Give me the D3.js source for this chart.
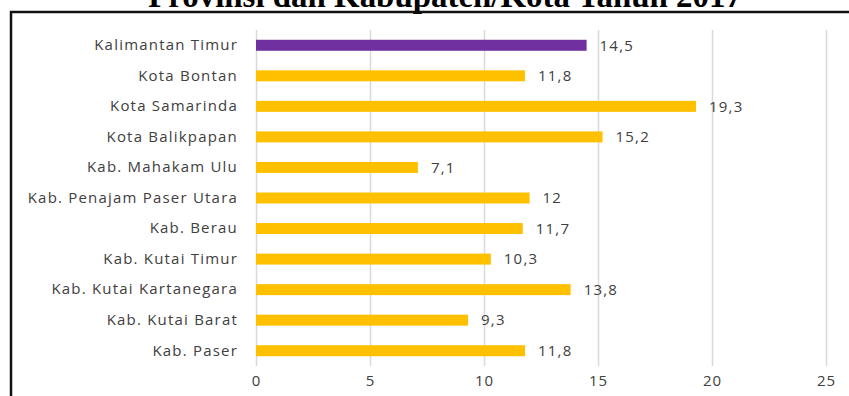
<!DOCTYPE html>
<html>
<head>
<meta charset="utf-8">
<script src="https://cdn.jsdelivr.net/npm/d3@7"></script>
<style>
  html, body { margin: 0; padding: 0; background: #fff; }
  svg { display: block; }
</style>
</head>
<body>
<svg id="chart" width="849" height="396"></svg>
<script>
// Regions, top to bottom as drawn
const regions = [
  "Kalimantan Timur",
  "Kota Bontan",
  "Kota Samarinda",
  "Kota Balikpapan",
  "Kab. Mahakam Ulu",
  "Kab. Penajam Paser Utara",
  "Kab. Berau",
  "Kab. Kutai Timur",
  "Kab. Kutai Kartanegara",
  "Kab. Kutai Barat",
  "Kab. Paser"
];
const values = [14.5, 11.8, 19.3, 15.2, 7.1, 12, 11.7, 10.3, 13.8, 9.3, 11.8];
const xTicks = [0, 5, 10, 15, 20, 25];
const title = "Provinsi dan Kabupaten/Kota Tahun 2017";

const svg = d3.select("#chart");
const W = 849, H = 396;
const fmt = v => String(v).replace(".", ",");
const FONT = "Open Sans, sans-serif";
const TEXT_COLOR = "#404040";

// Title (clipped by the top edge)
const t = svg.append("text")
  .attr("x", 445).attr("y", 7)
  .attr("text-anchor", "middle")
  .attr("font-family", "Liberation Serif, serif")
  .attr("font-weight", "bold")
  .attr("font-size", 26)
  .attr("fill", "#000")
  .text(title);
const tw = t.node().getComputedTextLength();
t.attr("font-size", 26 * 594 / tw);

// Frame around the chart area
svg.append("rect")
  .attr("x", 11).attr("y", 12)
  .attr("width", W + 40).attr("height", H + 40)
  .attr("fill", "none")
  .attr("stroke", "#111")
  .attr("stroke-width", 2.5);

const x = d3.scaleLinear().domain([0, 25]).range([256, 826]);
const y = d3.scaleBand().domain(regions).range([30, 366]).paddingInner(0.64).paddingOuter(0.32);

// Vertical gridlines
const grid = svg.append("g")
  .attr("transform", "translate(0,366)")
  .call(d3.axisBottom(x).tickValues(xTicks).tickSize(-336).tickFormat(""));
grid.select(".domain").remove();
grid.selectAll("line").attr("stroke", "#d9d9d9").attr("stroke-width", 1.5);

// Tick labels
const xa = svg.append("g")
  .attr("transform", "translate(0,366)")
  .call(d3.axisBottom(x).tickValues(xTicks).tickSize(0).tickPadding(9).tickFormat(d => d));
xa.select(".domain").remove();
xa.selectAll("text")
  .attr("font-family", FONT)
  .attr("font-size", 15)
  .attr("letter-spacing", 1)
  .attr("fill", TEXT_COLOR);

// Category labels
const ya = svg.append("g")
  .attr("transform", "translate(256,0)")
  .call(d3.axisLeft(y).tickSize(0).tickPadding(18));
ya.select(".domain").remove();
ya.selectAll("text")
  .attr("font-family", FONT)
  .attr("font-size", 15)
  .attr("letter-spacing", 1.2)
  .attr("fill", TEXT_COLOR);

// Bars
svg.append("g").selectAll("rect")
  .data(regions)
  .join("rect")
  .attr("x", x(0))
  .attr("y", d => y(d))
  .attr("width", (d, i) => x(values[i]) - x(0))
  .attr("height", y.bandwidth())
  .attr("fill", (d, i) => i === 0 ? "#7030A0" : "#FFC000");

// Value labels
svg.append("g").selectAll("text")
  .data(regions)
  .join("text")
  .attr("x", (d, i) => x(values[i]) + 13)
  .attr("y", d => y(d) + y.bandwidth() / 2)
  .attr("dy", "0.35em")
  .attr("font-family", FONT)
  .attr("font-size", 15)
  .attr("letter-spacing", 1.2)
  .attr("fill", TEXT_COLOR)
  .text((d, i) => fmt(values[i]));
</script>
</body>
</html>
